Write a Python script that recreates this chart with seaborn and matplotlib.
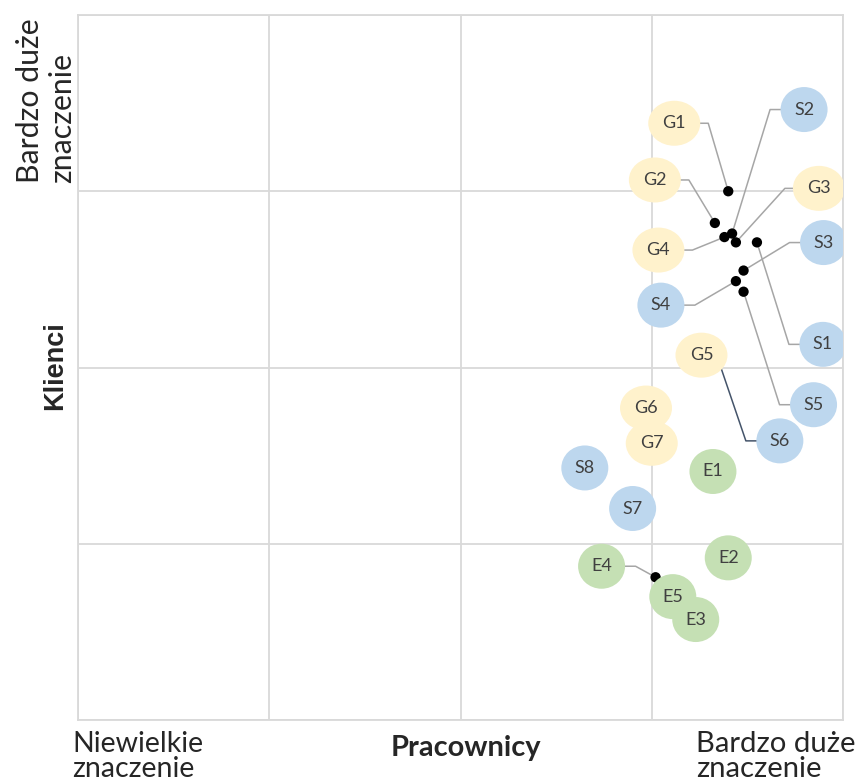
import numpy as np
import pandas as pd
import matplotlib
matplotlib.use("Agg")
import matplotlib.pyplot as plt
from matplotlib.patches import Ellipse
import seaborn as sns

# points (scale 1..5 on both axes)
labels = ["G1", "G2", "G3", "G4", "G5", "G6", "G7",
          "S1", "S2", "S3", "S4", "S5", "S6", "S7", "S8",
          "E1", "E2", "E4", "E5", "E3"]
pracownicy = [4.40, 4.33, 4.44, 4.38, 4.26, 3.97, 4.00,
              4.55, 4.42, 4.48, 4.44, 4.48, 4.33, 3.90, 3.65,
              4.32, 4.40, 4.02, 4.11, 4.23]
klienci = [4.00, 3.82, 3.71, 3.74, 3.07, 2.77, 2.57,
           3.71, 3.76, 3.55, 3.49, 3.43, 3.10, 2.20, 2.43,
           2.41, 1.92, 1.81, 1.70, 1.57]

low_text = "Niewielkie\nznaczenie"
high_text = "Bardzo duże\nznaczenie"

# label bubble offsets from their point, in pixels (x right, y up)
label_offsets = {
    "G1": (-54, 68), "G2": (-60, 43), "G3": (83, 54), "G4": (-66, -13),
    "S1": (66, -102), "S2": (72, 124), "S3": (80, 28), "S4": (-75, -24),
    "S5": (70, -113), "S6": (65, -91), "E4": (-54, 11),
}
group_colors = {"G": "#FFF2CC", "S": "#BDD7EE", "E": "#C5E0B4"}
bubble_w = {"G": 52, "S": 47, "E": 47}  # px

df = pd.DataFrame({"label": labels, "x": pracownicy, "y": klienci})
df["group"] = df["label"].str[0]

sns.set_style("white")
plt.rcParams["font.family"] = ["Lato", "DejaVu Sans"]

fig = plt.figure(figsize=(8.58, 7.83), dpi=100)
ax = fig.add_axes([78 / 858, 1 - 720 / 783, 765 / 858, 705 / 783])

sns.scatterplot(data=df, x="x", y="y", color="black", s=55, edgecolor="none",
                zorder=3, ax=ax, legend=False)

ax.set_xlim(1, 5)
ax.set_ylim(1, 5)
ax.set_xticks([1, 2, 3, 4, 5])
ax.set_yticks([1, 2, 3, 4, 5])
ax.set_xticklabels([])
ax.set_yticklabels([])
ax.tick_params(length=0)
ax.grid(True, color="#d9d9d9", linewidth=1.3)
for sp in ax.spines.values():
    sp.set_color("#d9d9d9")
    sp.set_linewidth(1.3)
ax.set_xlabel("")
ax.set_ylabel("")

to_disp = ax.transData.transform
to_data = ax.transData.inverted().transform
p0 = to_disp((0, 0))
px_x = to_disp((1, 0))[0] - p0[0]
px_y = to_disp((0, 1))[1] - p0[1]

for _, r in df.iterrows():
    d = to_disp((r["x"], r["y"]))
    dx, dy = label_offsets.get(r["label"], (0, 0))
    c = d + np.array([dx, dy])
    if dx or dy:
        elbow = c + np.array([-np.sign(dx) * 34, 0])
        pts = to_data(np.array([d, elbow, c]))
        lc = "#44546A" if r["label"] == "S6" else "#a6a6a6"
        ax.plot(pts[:, 0], pts[:, 1], color=lc, lw=1.1, zorder=2)
    cx, cy = to_data(c)
    ax.add_patch(Ellipse((cx, cy), bubble_w[r["group"]] / px_x, 45 / px_y,
                         facecolor=group_colors[r["group"]], edgecolor="none", zorder=4))
    ax.text(cx, cy, r["label"], ha="center", va="center", fontsize=13,
            color="#404040", zorder=5)


def fit(t, length_px, vertical=False):
    # scale a text so its long side matches the reference length (pixels)
    fig.canvas.draw()
    bb = t.get_window_extent()
    cur = bb.height if vertical else bb.width
    t.set_fontsize(t.get_fontsize() * length_px / cur)


t1 = fig.text(72 / 858, 1 - 731 / 783, low_text, ha="left", va="top", fontsize=19.5,
              linespacing=0.95)
t2 = fig.text(696 / 858, 1 - 731 / 783, high_text, ha="left", va="top", fontsize=19.5,
              linespacing=0.95)
t3 = fig.text(466 / 858, 1 - 748 / 783, "Pracownicy", ha="center", va="center",
              fontsize=20, fontweight="bold")
t4 = fig.text(16 / 858, 1 - 183 / 783, high_text, ha="left", va="bottom", rotation=90,
              multialignment="left", fontsize=20, linespacing=1.2)
t5 = fig.text(55 / 858, 1 - 366 / 783, "Klienci", ha="center", va="center", rotation=90,
              fontsize=19, fontweight="bold", fontfamily="Liberation Sans")
fit(t1, 131)
fit(t2, 159)
fit(t3, 150)
fit(t4, 165, vertical=True)
fit(t5, 89, vertical=True)

fig.savefig("out.png", dpi=100)
